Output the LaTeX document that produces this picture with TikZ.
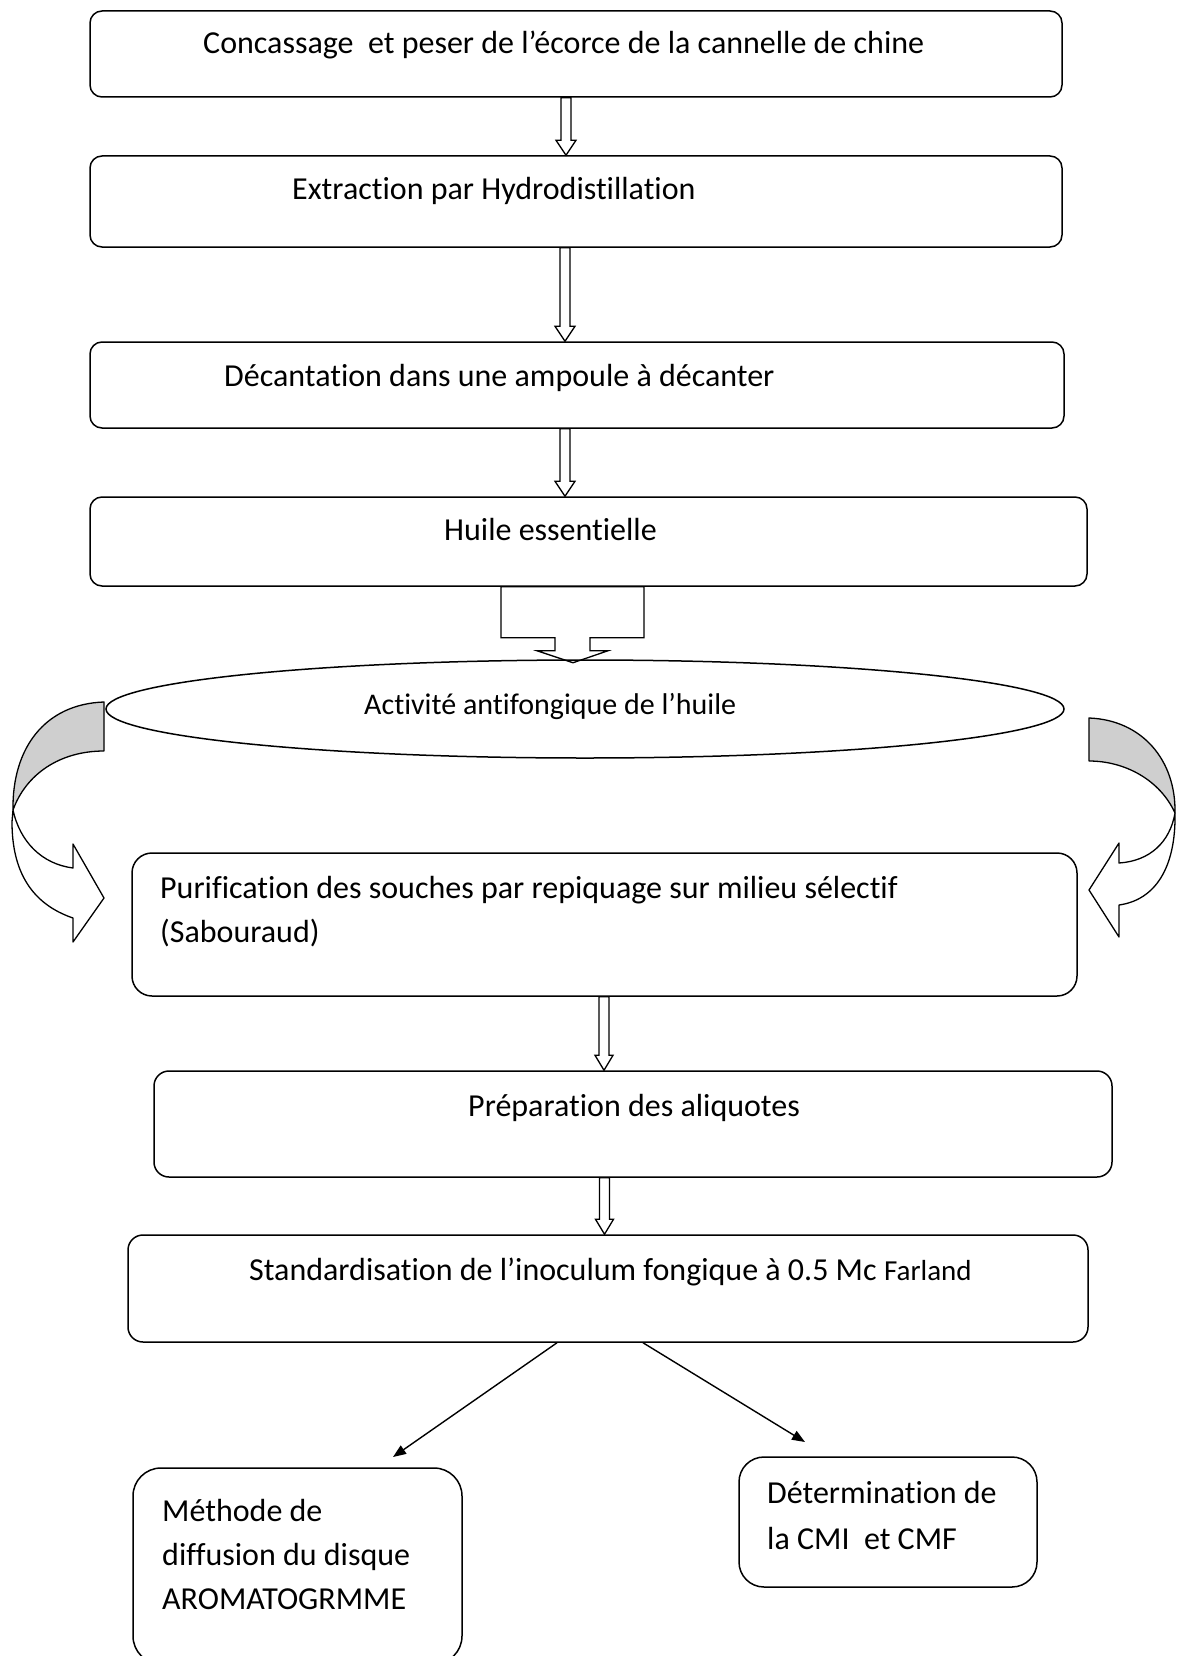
\documentclass[tikz,border=0pt]{standalone}
\usepackage{fontspec}
\setmainfont{Carlito}[Ligatures=NoCommon]
\usetikzlibrary{shapes.geometric,arrows.meta,calc}

\begin{document}
\begin{tikzpicture}[x=1pt,y=-1pt]

		\tikzstyle{module}=[rectangle,draw=black,line width=1.5pt,
			rounded corners=12pt,inner sep=0pt]
		\tikzstyle{txt}=[anchor=base west,inner sep=0pt,
			font=\fontsize{32}{44}\selectfont,align=left]
		\tikzstyle{hollow}=[draw=black,line width=1.3pt,line join=miter]
		\tikzstyle{arrow}=[-{Triangle[length=13pt,width=10pt]},
			draw=black,line width=1.4pt]
		\tikzstyle{curl}=[draw=black,line width=1.3pt,line join=round]

		\useasboundingbox[fill=white] (0,0) rectangle (1176,1656);

		\node[module,minimum width=972pt,minimum height=86pt]	(concassage)	at (576,54)	{};
		\node[module,minimum width=972pt,minimum height=91pt]	(extraction)	at (576,201.5)	{};
		\node[module,minimum width=974pt,minimum height=86pt]	(decantation)	at (577,385)	{};
		\node[module,minimum width=997pt,minimum height=89pt]	(huile)	at (588.5,541.5)	{};
		\node[ellipse,draw=black,line width=1.5pt,inner sep=0pt,
			minimum width=958pt,minimum height=98pt]	(activite)	at (585,709)	{};
		\node[module,rounded corners=20pt,minimum width=945pt,minimum height=143pt]	(purification)	at (604.5,924.5)	{};
		\node[module,rounded corners=15pt,minimum width=958pt,minimum height=106pt]	(preparation)	at (633,1124)	{};
		\node[module,rounded corners=15pt,minimum width=960pt,minimum height=107pt]	(standard)	at (608,1288.5)	{};
		\node[module,rounded corners=28pt,minimum width=329pt,minimum height=196pt]	(methode)	at (297.5,1566)	{};
		\node[module,rounded corners=25pt,minimum width=298pt,minimum height=130pt]	(cmi)	at (888,1522)	{};

		\node[txt]	(concassage-t)	at (203,54)	{Concassage\ \ et peser de l’écorce de la cannelle de chine};
		\node[txt]	(extraction-t)	at (292,200)	{Extraction par Hydrodistillation};
		\node[txt]	(decantation-t)	at (224,386)	{Décantation dans une ampoule à décanter};
		\node[txt]	(huile-t)	at (444,540)	{Huile essentielle};
		\node[txt,font=\fontsize{30}{40}\selectfont]	(activite-t)	at (364,714)	{Activité antifongique de l’huile};
		\node[txt]	(purification-t)	at (160,942)	{Purification des souches par repiquage sur milieu sélectif\\(Sabouraud)};
		\node[txt]	(preparation-t)	at (468,1116)	{Préparation des aliquotes};
		\node[txt]	(standard-t)	at (249,1280)	{Standardisation de l’inoculum fongique à 0.5 Mc {\fontsize{29}{30}\selectfont Farland}};
		\node[txt]	(methode-t)	at (162,1609)	{Méthode de\\diffusion du disque\\AROMATOGRMME};
		\node[txt]	(cmi-t)	at (767,1549)	{Détermination de\\[2pt]la CMI\ \ et CMF};

		% hollow down arrows between the boxes
		\foreach \src/\dst/\xc/\hw in {concassage/extraction/566/10,extraction/decantation/565/10,
				decantation/huile/565/10,purification/preparation/604/9,preparation/standard/604.5/9}
			\draw[hollow]	let \p1=(\src.south), \p2=(\dst.north) in
				(\xc pt-5pt,\y1) -- (\xc pt-5pt,\y2+15pt) -- (\xc pt-\hw pt,\y2+15pt) -- (\xc pt,\y2)
				-- (\xc pt+\hw pt,\y2+15pt) -- (\xc pt+5pt,\y2+15pt) -- (\xc pt+5pt,\y1) -- cycle;

		\draw[hollow]	($(huile.south)+(-87.5,0)$) -- ++(143,0) -- ++(0,51) -- ++(-54,0) -- ++(0,13)
			-- ++(18,0) -- ++(-35,12) -- ++(-36,-12) -- ++(18,0) -- ++(0,-13) -- ++(-54,0) -- cycle;

		\draw[curl,fill=white]	(13,810) .. controls (20,842) and (42,864) .. (73,868) -- (73,844) -- (104,898)
			-- (73,942) -- (73,918) .. controls (32,904) and (12,872) .. (12,822) -- cycle;
		\draw[curl,fill=black!19]	(104,702) .. controls (45,704) and (12,748) .. (13,810)
			.. controls (26,774) and (60,751) .. (104,751) -- cycle;

		\draw[curl,fill=white]	(1175,813) .. controls (1170,842) and (1150,861) .. (1119,863) -- (1119,843) -- (1089,890)
			-- (1119,937) -- (1119,905) .. controls (1155,900) and (1176,868) .. (1175,813) -- cycle;
		\draw[curl,fill=black!19]	(1089,718) .. controls (1142,720) and (1176,760) .. (1175,813)
			.. controls (1160,780) and (1125,761) .. (1089,761) -- cycle;

		\coordinate	(methode-in)	at (393,1457);
		\coordinate	(cmi-in)	at (805,1442);
		\draw[arrow]	($(standard.south)+(-51,0)$)	--	(methode-in);
		\draw[arrow]	($(standard.south)+(35,0)$)	--	(cmi-in);

	\end{tikzpicture}
\end{document}
